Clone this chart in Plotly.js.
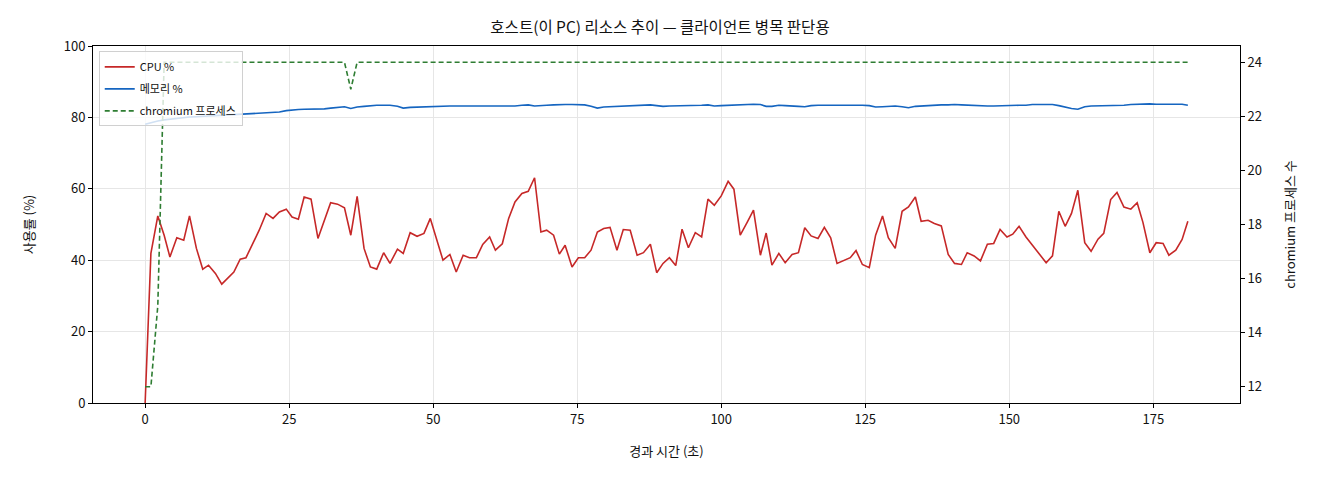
<!DOCTYPE html>
<html>
<head>
<meta charset="utf-8">
<script src="https://cdn.plot.ly/plotly-3.0.1.min.js"></script>
<style>html,body{margin:0;padding:0;background:#fff;}#chart{width:1320px;height:480px;}</style>
</head>
<body>
<div id="chart"></div>
<script>
const elapsed = [
  0.0,1.0,2.2,3.3,4.3,5.5,6.7,7.7,8.9,10.0,
  11.0,12.2,13.3,14.4,15.4,16.5,17.5,18.7,19.8,21.0,
  22.2,23.3,24.5,25.5,26.6,27.6,28.8,30.0,31.1,32.2,
  33.4,34.6,35.7,36.8,38.0,39.1,40.2,41.4,42.5,43.8,
  44.8,46.0,47.2,48.4,49.5,50.6,51.7,52.9,54.0,55.2,
  56.3,57.5,58.6,59.8,60.8,62.0,63.1,64.2,65.4,66.5,
  67.6,68.7,69.7,70.9,71.9,72.9,74.1,75.2,76.3,77.4,
  78.5,79.6,80.7,81.9,83.0,84.2,85.4,86.5,87.7,88.8,
  89.9,91.0,92.1,93.2,94.3,95.5,96.6,97.7,98.8,100.0,
  101.2,102.2,103.3,104.5,105.6,106.8,107.8,108.8,110.0,111.1,
  112.3,113.4,114.5,115.6,116.8,117.9,119.0,120.1,121.2,122.4,
  123.4,124.5,125.7,126.8,128.0,129.0,130.2,131.4,132.5,133.7,
  134.7,135.9,137.0,138.2,139.4,140.5,141.7,142.7,143.9,145.0,
  146.2,147.3,148.4,149.6,150.6,151.7,152.9,154.0,155.2,156.4,
  157.5,158.6,159.7,160.8,161.9,163.1,164.2,165.4,166.4,167.6,
  168.7,169.9,171.1,172.2,173.2,174.4,175.5,176.7,177.7,178.9,
  180.0,181.0
];
const cpuPct = [
  0,41.9,52.4,47.0,40.9,46.3,45.6,52.4,43.3,37.5,
  38.6,36.3,33.3,35.1,36.7,40.3,40.7,44.7,48.4,53.1,
  51.7,53.5,54.3,52.1,51.5,57.7,57.1,46.1,51.0,56.1,
  55.7,54.7,47.0,57.9,43.3,38.1,37.5,42.1,39.1,43.1,
  41.9,47.7,46.7,47.5,51.7,45.9,40.0,41.6,36.7,41.4,
  40.7,40.7,44.4,46.5,42.8,44.6,51.7,56.3,58.7,59.3,
  63.1,47.9,48.4,47.0,41.7,44.2,38.1,40.7,40.7,42.8,
  47.9,48.9,49.2,42.8,48.6,48.4,41.4,42.1,44.5,36.5,
  39.1,40.7,38.5,48.7,43.5,47.7,46.5,57.1,55.4,58.0,
  62.1,59.9,47.0,50.6,54.0,41.4,47.6,38.6,41.9,39.3,
  41.6,42.1,49.1,46.8,46.1,49.2,46.3,39.1,39.8,40.7,
  42.7,38.8,37.9,47.0,52.4,46.3,43.3,53.7,54.9,57.7,
  50.9,51.2,50.3,49.6,41.6,39.1,38.8,42.1,41.2,39.8,
  44.5,44.7,48.6,46.5,47.3,49.5,46.5,44.2,41.9,39.3,
  41.2,53.7,49.5,53.1,59.6,44.9,42.5,45.9,47.5,57.0,
  59.0,54.9,54.3,56.1,50.6,42.1,44.9,44.7,41.4,42.8,
  45.8,50.9
];
const memPct = [
  78.1,78.6,79.0,79.3,79.5,79.7,79.9,80.1,80.2,80.4,
  80.4,80.5,80.6,80.7,80.8,80.9,81.0,81.1,81.3,81.4,
  81.4,81.5,81.9,82.1,82.2,82.3,82.3,82.4,82.4,82.6,
  82.8,83.0,82.5,82.9,83.1,83.3,83.4,83.4,83.4,83.1,
  82.6,82.8,82.9,83.0,83.1,83.2,83.2,83.2,83.2,83.2,
  83.2,83.2,83.1,83.2,83.2,83.3,83.3,83.2,83.4,83.5,
  83.2,83.4,83.4,83.5,83.6,83.6,83.6,83.5,83.5,83.1,
  82.6,82.9,83.0,83.1,83.1,83.2,83.3,83.4,83.5,83.3,
  83.1,83.2,83.2,83.2,83.2,83.3,83.4,83.5,83.2,83.3,
  83.4,83.5,83.6,83.75,83.7,83.6,83.1,83.1,83.4,83.3,
  83.3,83.1,83.0,83.3,83.4,83.4,83.4,83.5,83.5,83.6,
  83.5,83.4,83.3,82.9,83.0,83.1,83.2,83.0,82.7,83.1,
  83.2,83.4,83.4,83.5,83.5,83.6,83.5,83.4,83.3,83.2,
  83.2,83.2,83.3,83.3,83.3,83.4,83.4,83.6,83.6,83.6,
  83.6,83.3,82.8,82.5,82.3,83.0,83.2,83.2,83.2,83.2,
  83.3,83.4,83.6,83.7,83.85,83.8,83.7,83.7,83.8,83.85,
  83.7,83.4
];
const chromiumProcs = [
  12,12,15,24,24,24,24,24,24,24,
  24,24,24,24,24,24,24,24,24,24,
  24,24,24,24,24,24,24,24,24,24,
  24,24,23,24,24,24,24,24,24,24,
  24,24,24,24,24,24,24,24,24,24,
  24,24,24,24,24,24,24,24,24,24,
  24,24,24,24,24,24,24,24,24,24,
  24,24,24,24,24,24,24,24,24,24,
  24,24,24,24,24,24,24,24,24,24,
  24,24,24,24,24,24,24,24,24,24,
  24,24,24,24,24,24,24,24,24,24,
  24,24,24,24,24,24,24,24,24,24,
  24,24,24,24,24,24,24,24,24,24,
  24,24,24,24,24,24,24,24,24,24,
  24,24,24,24,24,24,24,24,24,24,
  24,24,24,24,24,24,24,24,24,24,
  24,24
];
const xTicks = [0,25,50,75,100,125,150,175];
const yLeftTicks = [0,20,40,60,80,100];
const yRightTicks = [12,14,16,18,20,22,24];

const FONT = '"Noto Sans CJK KR", "Noto Sans", sans-serif';

const traces = [
  {x: elapsed, y: cpuPct, type: 'scatter', mode: 'lines', name: 'CPU %', legendgroup: 'g1',
   line: {color: '#c62828', width: 1.6}, yaxis: 'y'},
  {x: elapsed, y: memPct, type: 'scatter', mode: 'lines', name: '메모리 %', legendgroup: 'g2',
   line: {color: '#1565c0', width: 1.6}, yaxis: 'y'},
  {x: elapsed, y: chromiumProcs, type: 'scatter', mode: 'lines', name: 'chromium 프로세스', legendgroup: 'g3',
   line: {color: '#2e7d32', width: 1.6, dash: '5px,3px'}, yaxis: 'y2'}
];

const layout = {
  width: 1320, height: 480,
  margin: {l: 93, r: 80, t: 46, b: 77},
  paper_bgcolor: '#fff', plot_bgcolor: '#fff',
  font: {family: FONT, size: 13, color: '#111'},
  title: {text: '호스트(이 PC) 리소스 추이 — 클라이언트 병목 판단용', x: 0.5, xanchor: 'center',
          y: 0.942, yanchor: 'middle', font: {size: 15.5, color: '#111', family: FONT}},
  showlegend: true,
  legend: {x: 0.005, y: 0.985, xanchor: 'left', yanchor: 'top',
           bgcolor: 'rgba(255,255,255,0.8)', bordercolor: '#d0d0d0', borderwidth: 1,
           font: {size: 11, family: FONT, color: '#111'}, tracegroupgap: 3},
  xaxis: {range: [-9.05, 190.05], tickvals: xTicks, ticks: 'outside', ticklen: 4, tickcolor: '#000',
          showline: true, linecolor: '#000', linewidth: 1, mirror: true,
          showgrid: true, gridcolor: '#e6e6e6', gridwidth: 1, zeroline: false,
          title: {text: '경과 시간 (초)', font: {size: 13, family: FONT}, standoff: 20}},
  yaxis: {range: [0, 100], tickvals: yLeftTicks, ticks: 'outside', ticklen: 4, tickcolor: '#000',
          showline: true, linecolor: '#000', linewidth: 1,
          showgrid: true, gridcolor: '#e6e6e6', gridwidth: 1, zeroline: false,
          title: {text: '사용률 (%)', font: {size: 13, family: FONT}, standoff: 26}},
  yaxis2: {range: [11.4, 24.6], tickvals: yRightTicks, overlaying: 'y', side: 'right',
           ticks: 'outside', ticklen: 4, tickcolor: '#000',
           showline: true, linecolor: '#000', linewidth: 1,
           showgrid: false, zeroline: false,
           title: {text: 'chromium 프로세스 수', font: {size: 13, family: FONT}, standoff: 24}}
};

Plotly.newPlot('chart', traces, layout, {displayModeBar: false, staticPlot: true});
</script>
</body>
</html>
